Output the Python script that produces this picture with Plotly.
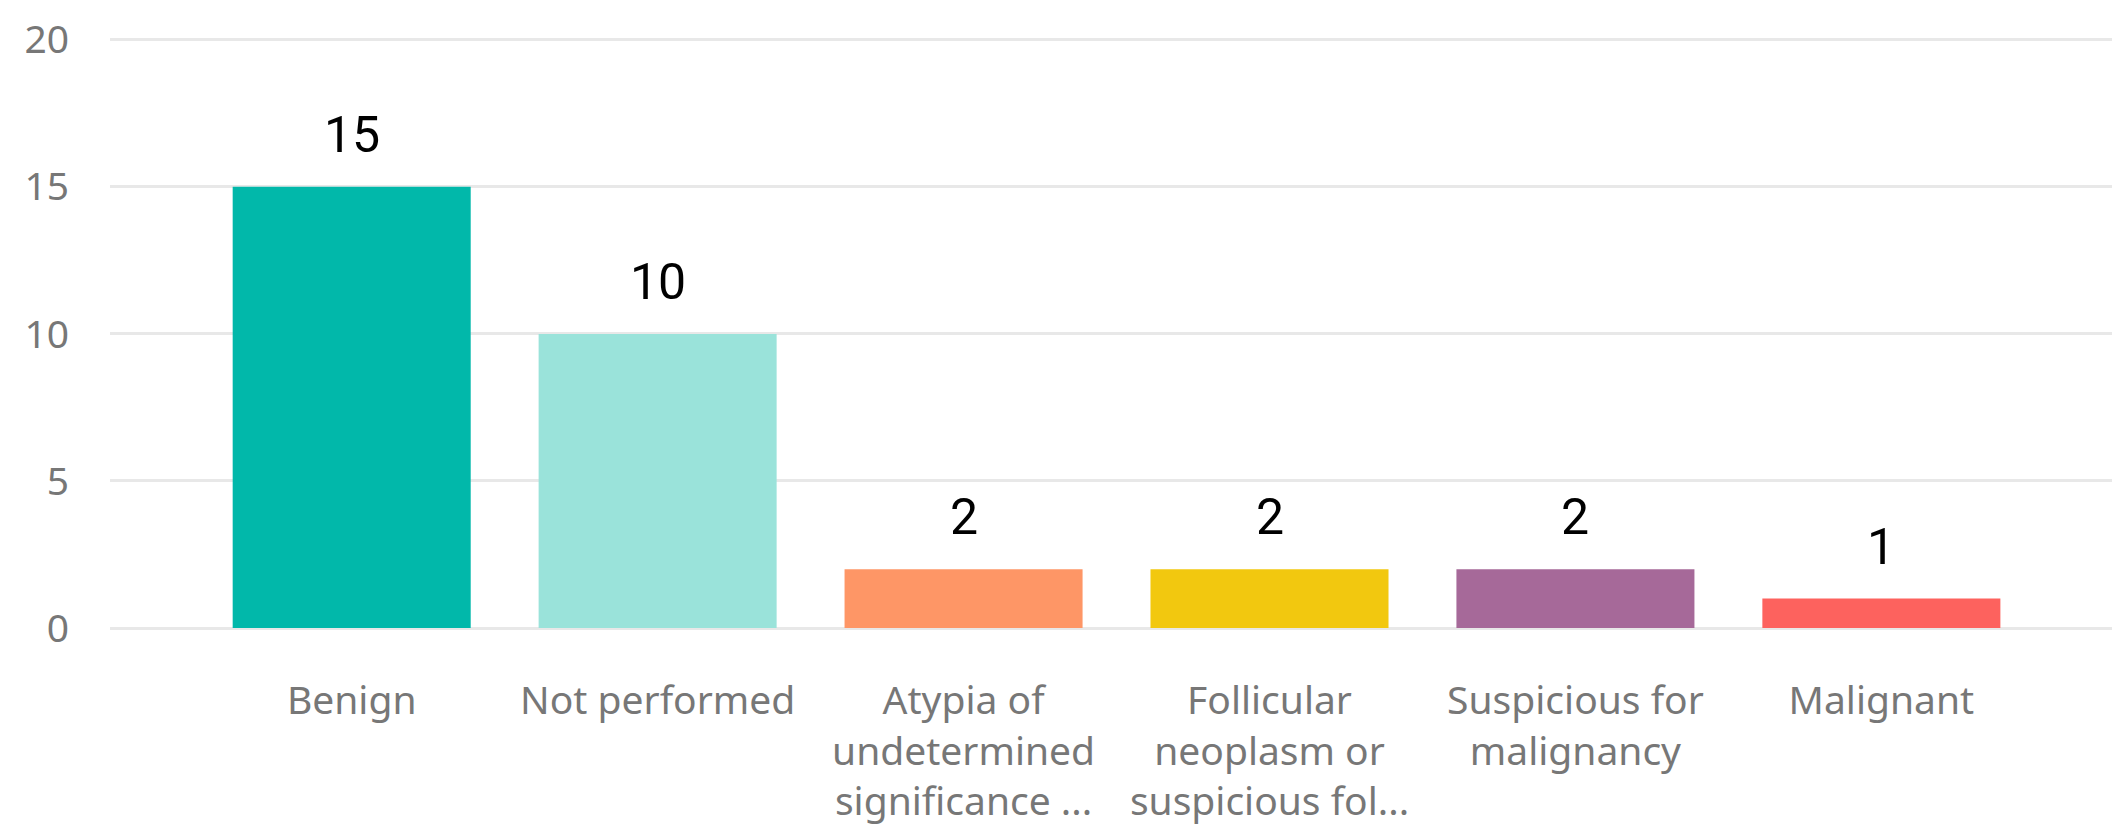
import plotly.graph_objects as go

### data
categories = [
    'Benign',
    'Not performed',
    'Atypia of<br>undetermined<br>significance ...',
    'Follicular<br>neoplasm or<br>suspicious fol...',
    'Suspicious for<br>malignancy',
    'Malignant',
]
counts = [15, 10, 2, 2, 2, 1]
colors = ['#01B8AA', '#9AE3DA', '#FE9666', '#F2C80F', '#A66999', '#FD625E']
y_ticks = [0, 5, 10, 15, 20]

fig = go.Figure()
fig.add_trace(go.Bar(
    x=categories,
    y=counts,
    marker=dict(color=colors, line=dict(width=0)),
    hoverinfo='x+y',
))

# value labels above each bar
for cat, val in zip(categories, counts):
    fig.add_annotation(
        x=cat, y=val, text=str(val), showarrow=False,
        yanchor='bottom', yshift=21,
        font=dict(family='Roboto', size=50, color='#000000'),
    )

# page body has an 8px margin, so margins are trimmed to compensate
fig.update_layout(
    width=2120,
    height=832,
    margin=dict(l=102, r=8, t=20, b=212),
    paper_bgcolor='white',
    plot_bgcolor='white',
    bargap=0.222,
    showlegend=False,
    font=dict(family='Noto Sans', color='#777777'),
)
fig.update_xaxes(
    range=[-0.79, 5.78],
    automargin=False,
    showgrid=False,
    showline=False,
    zeroline=False,
    ticks='',
    tickfont=dict(family='Noto Sans', size=39, color='#777777'),
    ticklabelstandoff=46,
)
fig.update_yaxes(
    range=[0, 20.4],
    automargin=False,
    tickvals=y_ticks,
    showgrid=True,
    gridcolor='#E8E8E8',
    gridwidth=3,
    zeroline=True,
    zerolinecolor='#E8E8E8',
    zerolinewidth=3,
    showline=False,
    ticks='',
    tickfont=dict(size=39, color='#777777'),
    ticklabelstandoff=40,
)

fig.write_html('out.html')
